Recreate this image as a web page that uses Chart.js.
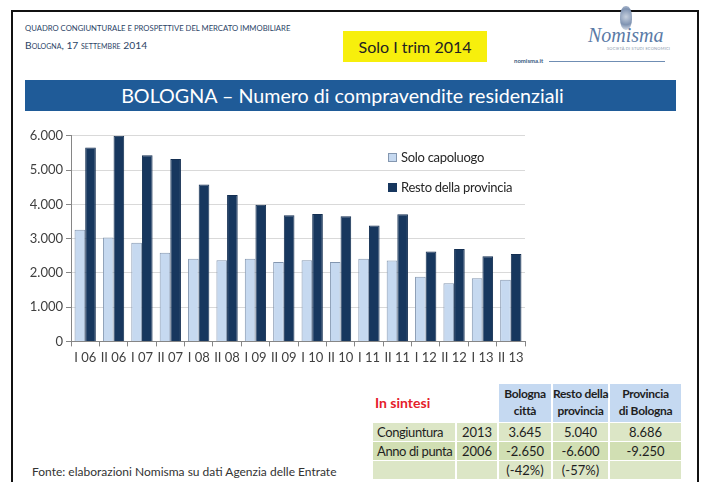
<!DOCTYPE html>
<html lang="it">
<head>
<meta charset="utf-8">
<title>Bologna - compravendite residenziali</title>
<script src="https://cdn.jsdelivr.net/npm/chart.js@4.4.1/dist/chart.umd.min.js"></script>
<style>
  html, body { margin: 0; padding: 0; background: #fff; }
  body { width: 703px; height: 482px; position: relative; overflow: hidden; font-family: Lato, "Open Sans", sans-serif; }
  .abs { position: absolute; }
  #frame { left: 11px; top: 10px; width: 684px; height: 500px; border: 2px solid #111; border-bottom: none; }
  #head1 { left: 25px; top: 23px; font-size: 7.7px; color: #2b4466; white-space: nowrap; }
  #head2 { left: 25px; top: 39px; font-size: 10.3px; color: #2b4466; font-variant: small-caps; white-space: nowrap; }
  #yellow { left: 343px; top: 31px; width: 144px; height: 31px; background: #f7ef0c; color: #222; font-size: 16px; line-height: 31px; text-align: center; }
  #logo { left: 588px; top: 24px; font-family: "Liberation Serif", "DejaVu Serif", serif; font-style: italic; font-size: 20px; color: #5a7aa6; }
  #logoSub { left: 607px; top: 46px; font-size: 4px; color: #8a98ac; letter-spacing: 0.2px; }
  #emblem { left: 620px; top: 6px; width: 12px; height: 24px; border-radius: 45%; background: radial-gradient(circle at 50% 45%, #c6d0de 0, #7f93b2 55%, #e8ecf2 100%); }
  #site { left: 514px; top: 57px; font-size: 6px; font-weight: bold; color: #3a5a80; }
  #siteLine { left: 549px; top: 61px; width: 116px; height: 1px; background: #6f8db3; }
  #titleBar { left: 25px; top: 80px; width: 635px; padding-right: 16px; height: 31px; background: #1f5b98; color: #fff; font-size: 19.7px; line-height: 31px; text-align: center; }
  #chartBox { left: 14px; top: 125px; width: 520px; height: 245px; }
  .leg { font-size: 13px; letter-spacing: -0.3px; color: #262626; white-space: nowrap; }
  .leg span { display: inline-block; width: 9px; height: 9px; margin-right: 4px; vertical-align: 0px; box-sizing: border-box; }
  #sintesi { left: 375px; top: 394px; font-size: 14px; font-weight: bold; color: #e5202a; }
  #tab { left: 371px; top: 383px; width: 312px; table-layout: fixed; border-collapse: separate; border-spacing: 2px 1px; font-size: 13px; color: #1e1e1e; }
  #tab td { padding: 0; height: 18px; line-height: 18px; text-align: center; white-space: nowrap; overflow: visible; }
  #tab tr.hd td { height: 36px; line-height: 17px; font-weight: bold; font-size: 12px; letter-spacing: -0.3px; padding-bottom: 2px; }
  #tab tr.hd td.blue { background: #c5d9f1; }
  #tab tr.r0 td { background: #dce6c6; }
  #tab tr.r1 td { background: #d1dfb3; }
  #tab tr.r2 td { background: #dce6c6; }
  #tab td.left { text-align: left; padding-left: 4px; letter-spacing: -0.4px; }
  #fonte { left: 32px; top: 464px; font-size: 12px; color: #333; white-space: nowrap; }
</style>
</head>
<body>
<div id="frame" class="abs"></div>
<div id="head1" class="abs">QUADRO CONGIUNTURALE E PROSPETTIVE DEL MERCATO IMMOBILIARE</div>
<div id="head2" class="abs">Bologna, 17 settembre 2014</div>
<div id="yellow" class="abs">Solo I trim 2014</div>
<div id="emblem" class="abs"></div>
<div id="logo" class="abs">Nomisma</div>
<div id="logoSub" class="abs">SOCIETÀ DI STUDI ECONOMICI</div>
<div id="site" class="abs">nomisma.it</div>
<div id="siteLine" class="abs"></div>
<div id="titleBar" class="abs">BOLOGNA – Numero di compravendite residenziali</div>

<div id="chartBox" class="abs"><canvas id="chart" width="520" height="245"></canvas></div>
<div id="leg0" class="abs leg" style="left:388px; top:149px;"><span style="background:#c6d9f0; border:1px solid #8497b0;"></span>Solo capoluogo</div>
<div id="leg1" class="abs leg" style="left:388px; top:179px;"><span style="background:#17375e;"></span>Resto della provincia</div>

<div id="sintesi" class="abs">In sintesi</div>
<table id="tab" class="abs"></table>
<div id="fonte" class="abs">Fonte: elaborazioni Nomisma su dati Agenzia delle Entrate</div>

<script>
// --- Chart data ---
const periodi = ['I 06', 'II 06', 'I 07', 'II 07', 'I 08', 'II 08', 'I 09', 'II 09',
                 'I 10', 'II 10', 'I 11', 'II 11', 'I 12', 'II 12', 'I 13', 'II 13'];
const soloCapoluogo = [3260, 3030, 2880, 2590, 2415, 2370, 2415, 2320,
                       2370, 2320, 2415, 2360, 1890, 1695, 1840, 1800];
const restoProvincia = [5660, 6000, 5435, 5320, 4580, 4270, 3990, 3680,
                        3720, 3650, 3380, 3710, 2620, 2700, 2485, 2550];
const yTicks = [0, 1000, 2000, 3000, 4000, 5000, 6000];

// --- Summary table ---
const tabHeader = ['Bologna<br>città', 'Resto della<br>provincia', 'Provincia<br>di Bologna'];
const tabRowLabels = ['Congiuntura', 'Anno di punta', ''];
const tabRowYears = ['2013', '2006', ''];
const tabCitta = ['3.645', '-2.650', '(-42%)'];
const tabResto = ['5.040', '-6.600', '(-57%)'];
const tabProvincia = ['8.686', '-9.250', ''];

// thousands separator like the original (6.000)
function formatIt(v) {
    return String(v).replace(/\B(?=(\d{3})+(?!\d))/g, '.');
}

function buildTable() {
    const tab = document.getElementById('tab');
    const widths = [82, 40, 52, 55, 71];
    let html = '<tr class="hd"><td style="width:' + widths[0] + 'px"></td><td style="width:' + widths[1] + 'px"></td>';
    tabHeader.forEach((h, i) => {
        html += '<td class="blue" style="width:' + widths[i + 2] + 'px">' + h + '</td>';
    });
    html += '</tr>';
    tabRowLabels.forEach((lab, r) => {
        html += '<tr class="r' + r + '"><td class="left">' + lab + '</td><td>' + tabRowYears[r] + '</td>' +
                '<td>' + tabCitta[r] + '</td><td>' + tabResto[r] + '</td><td>' + tabProvincia[r] + '</td></tr>';
    });
    tab.innerHTML = html;
}

function buildChart() {
    Chart.defaults.font.family = 'Lato';
    const ctx = document.getElementById('chart').getContext('2d');
    new Chart(ctx, {
        type: 'bar',
        data: {
            labels: periodi,
            datasets: [{
                label: 'Solo capoluogo',
                data: soloCapoluogo,
                backgroundColor: '#c6d9f0',
                borderColor: '#8497b0',
                borderWidth: 1
            }, {
                label: 'Resto della provincia',
                data: restoProvincia,
                backgroundColor: '#17375e',
                borderColor: '#142f52',
                borderWidth: 1
            }]
        },
        options: {
            responsive: false,
            animation: false,
            layout: { padding: { left: 7, right: 9, top: 6, bottom: 0 } },
            datasets: { bar: { categoryPercentage: 0.75, barPercentage: 1 } },
            plugins: {
                legend: { display: false }, // legend drawn as html over the plot
                tooltip: { enabled: false }
            },
            scales: {
                x: {
                    grid: { offset: true, drawOnChartArea: false, tickLength: 5, color: '#868686' },
                    border: { color: '#868686' },
                    ticks: { color: '#404040', font: { size: 13 }, padding: 4, maxRotation: 0, autoSkip: false }
                },
                y: {
                    min: yTicks[0],
                    max: yTicks[yTicks.length - 1],
                    afterFit: (scale) => { scale.width = 50; },
                    afterBuildTicks: (scale) => { scale.ticks = yTicks.map(v => ({ value: v })); },
                    ticks: { color: '#404040', font: { size: 13 }, padding: 3, callback: (v) => formatIt(v) },
                    grid: { color: '#d9d9d9', tickLength: 5, tickColor: '#868686' },
                    border: { color: '#868686' }
                }
            }
        }
    });
}

document.addEventListener('DOMContentLoaded', function() {
    buildTable();
    buildChart();
});
</script>
</body>
</html>
